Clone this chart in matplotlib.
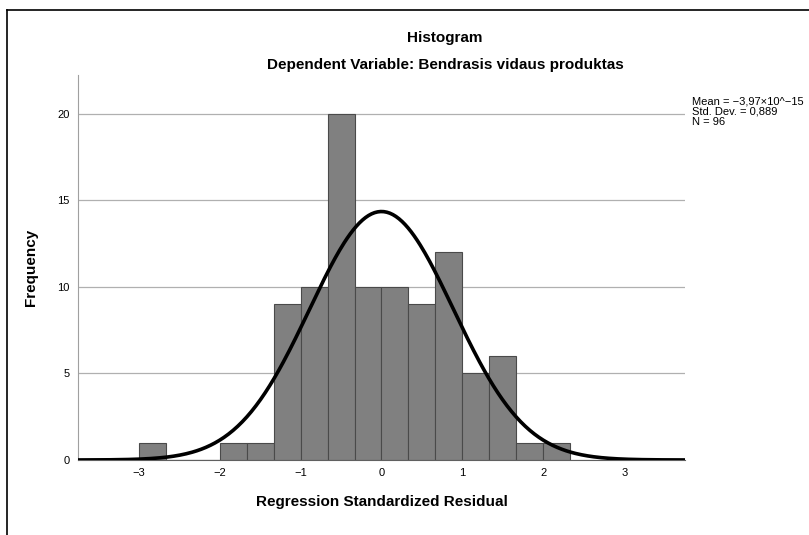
#Histogram of regression standardized residuals with fitted normal curve

import numpy as np
import matplotlib
matplotlib.use('Agg')
import matplotlib.pyplot as plt

plt.rcParams['font.family'] = ['Liberation Sans', 'DejaVu Sans']

#bin edges (width 1/3) and counts
bin_edges = np.arange(-9, 8) / 3.0
counts = [1, 0, 0, 1, 1, 9, 10, 20, 10, 10, 9, 12, 5, 6, 1, 1]

#summary stats shown in the box at the right
mean = -3.97e-15
std_dev = 0.889
n_obs = 96

x_ticks = [-3, -2, -1, 0, 1, 2, 3]
y_ticks = [0, 5, 10, 15, 20]

fig = plt.figure(figsize=(8.09, 5.35), dpi=100)
ax = fig.add_axes([0.0964, 0.1402, 0.7503, 0.7196])

#bars from the bin edges
widths = np.diff(bin_edges)
ax.bar(bin_edges[:-1], counts, width=widths, align='edge',
       color='#808080', edgecolor='#4a4a4a', linewidth=0.8, zorder=2)

#normal curve scaled to counts
bw = widths[0]
xs = np.linspace(-3.75, 3.75, 400)
ys = n_obs * bw * np.exp(-0.5 * ((xs - mean) / std_dev) ** 2) / (std_dev * np.sqrt(2 * np.pi))
ax.plot(xs, ys, color='black', linewidth=2.6, zorder=3)

ax.set_xlim(-3.75, 3.75)
ax.set_ylim(0, 22.25)
ax.set_xticks(x_ticks)
ax.set_xticklabels([str(t).replace('-', '\u2212') for t in x_ticks])
ax.set_yticks(y_ticks)
ax.tick_params(axis='both', length=0, labelsize=8, pad=6)
ax.yaxis.grid(True, color='#b0b0b0', linewidth=0.9, zorder=0)
ax.set_axisbelow(True)

for side in ['top', 'right']:
    ax.spines[side].set_visible(False)
ax.spines['left'].set_color('#a0a0a0')
ax.spines['bottom'].set_color('#606060')

ax.set_xlabel('Regression Standardized Residual', fontsize=11, fontweight='bold', labelpad=12)
ax.set_ylabel('Frequency', fontsize=11, fontweight='bold', labelpad=14)

fig.text(0.55, 0.929, 'Histogram', ha='center', va='center', fontsize=11, fontweight='bold')
fig.text(0.55, 0.878, 'Dependent Variable: Bendrasis vidaus produktas',
         ha='center', va='center', fontsize=11, fontweight='bold')

stats_str = ('Mean = \u22123,97\u00d710^\u221215\nStd. Dev. = 0,889\nN = 96')
fig.text(0.855, 0.82, stats_str, ha='left', va='top', fontsize=8, linespacing=1.05)

#outer frame lines (top and left)
fig.add_artist(plt.Line2D([7 / 809, 1], [1 - 10 / 535] * 2, color='black', linewidth=1.2))
fig.add_artist(plt.Line2D([7 / 809] * 2, [0, 1 - 10 / 535], color='black', linewidth=1.2))

fig.savefig('out.png', dpi=100)
